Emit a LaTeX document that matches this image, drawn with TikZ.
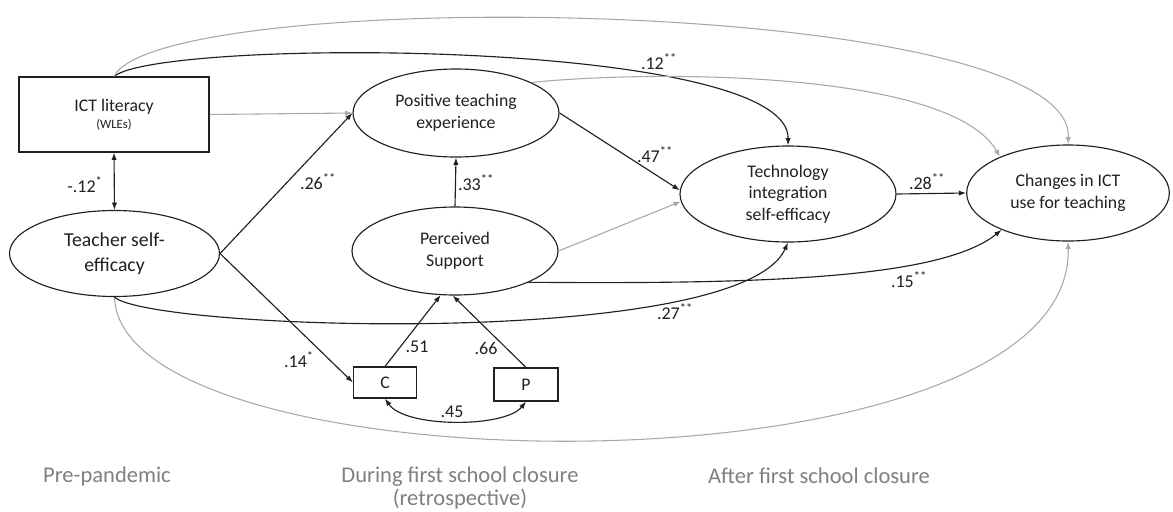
\documentclass[tikz,border=0pt]{standalone}
\usepackage{fontspec}
\setmainfont{Carlito}
\usetikzlibrary{arrows.meta,shapes.geometric}
\definecolor{ln}{HTML}{202020}
\definecolor{lg}{HTML}{A8A8A8}
\definecolor{tg}{HTML}{808080}
\begin{document}
\begin{tikzpicture}[x=0.75pt,y=-0.75pt,
  ellnode/.style={ellipse, draw=ln, line width=0.85pt, inner sep=0pt, align=center, text=ln,
                  font=\fontsize{13.3}{16.5}\selectfont},
  boxnode/.style={rectangle, draw=ln, line width=0.85pt, inner sep=0pt, align=center, text=ln,
                  font=\fontsize{13.3}{13}\selectfont},
  tip/.tip={Latex[length=5.5pt,width=4pt]},
  blk/.style={draw=ln, line width=0.85pt, -tip},
  dbl/.style={draw=ln, line width=0.85pt, tip-tip},
  gry/.style={draw=lg, line width=0.8pt, -tip},
  coef/.style={font=\fontsize{13.5}{15}\selectfont, text=ln, inner sep=0pt},
  period/.style={font=\fontsize{16.9}{17.5}\selectfont, text=tg, align=center, inner sep=0pt}]
\fill[white] (0,0) rectangle (1173,511);
\useasboundingbox (0,0) rectangle (1173,511);

% nodes
\node[boxnode, minimum width=142.5pt, minimum height=56.25pt] (ict) at (114,114.5)
  {ICT literacy\\{\fontsize{9.5}{10}\selectfont (WLEs)}};
\node[ellnode, minimum width=157.5pt, minimum height=64.5pt,
      font=\fontsize{14.8}{18.75}\selectfont] (teach) at (114.5,253.5) {Teacher self-\\efficacy};
\node[ellnode, minimum width=154.5pt, minimum height=66pt] (pos) at (456,113) {Positive teaching\\experience};
\node[ellnode, minimum width=154.5pt, minimum height=66pt] (ps) at (455,251) {Perceived\\Support};
\node[ellnode, minimum width=162pt, minimum height=72pt,
      font=\fontsize{13.3}{16}\selectfont] (tech) at (788,194) {Technology\\integration\\self-efficacy};
\node[ellnode, minimum width=152pt, minimum height=72pt] (chg) at (1068,193) {Changes in ICT\\use for teaching};
\node[boxnode, minimum width=47.25pt, minimum height=23.25pt] (cbox) at (385,382.5) {C};
\node[boxnode, minimum width=48pt, minimum height=24.75pt] (pbox) at (526,384.5) {P};

% straight connectors
\draw[dbl] (ict.south) -- (teach.north);
\draw[gry] (ict.east) -- (pos.west);
\draw[blk] (teach.east) -- (pos.west);
\draw[blk] (teach.east) -- (cbox.west);
\draw[blk] (ps.north) -- (pos.south);
\draw[blk] (cbox.north) -- (ps.252);
\draw[blk] (pbox.north) -- (ps.267);
\draw[dbl] (cbox.south) .. controls (405,428) and (505,428) .. (pbox.south);
\draw[blk] (pos.east) -- (tech.178);
\draw[gry] (ps.east) -- (tech.184);
\draw[blk] (tech.east) -- (chg.west);

% curved connectors
\draw[blk] (ict.north) .. controls (160,38) and (790,38) .. (tech.north);
\draw[gry] (ict.north) .. controls (160,-15) and (1075,-5) .. (chg.north);
\draw[gry] (pos.22) .. controls (650,70) and (950,70) .. (chg.152);
\draw[gry] (teach.south) .. controls (120,492) and (1075,502) .. (chg.south);
\draw[blk] (teach.south) .. controls (150,330) and (740,350) .. (tech.south);
\draw[blk] (ps.-23) .. controls (750,284) and (940,280) .. (chg.209);

% coefficients
\node[coef] (k1) at (85,185) {-.12\textsuperscript{*}};
\node[coef] (k2) at (318,182) {.26\textsuperscript{**}};
\node[coef] (k3) at (476,183) {.33\textsuperscript{**}};
\node[coef] (k4) at (659,62) {.12\textsuperscript{**}};
\node[coef] (k5) at (655,155) {.47\textsuperscript{**}};
\node[coef] (k6) at (927,182) {.28\textsuperscript{**}};
\node[coef] (k7) at (299,360) {.14\textsuperscript{*}};
\node[coef] (k8) at (417,347) {.51};
\node[coef] (k9) at (486,348) {.66};
\node[coef] (k10) at (452,412) {.45};
\node[coef] (k11) at (675,312) {.27\textsuperscript{**}};
\node[coef] (k12) at (909,280) {.15\textsuperscript{**}};

% period labels
\node[period] (pre) at (107,476) {Pre-pandemic};
\node[period] (dur) at (460,488) {During first school closure\\(retrospective)};
\node[period] (aft) at (819,476) {After first school closure};
\end{tikzpicture}
\end{document}
